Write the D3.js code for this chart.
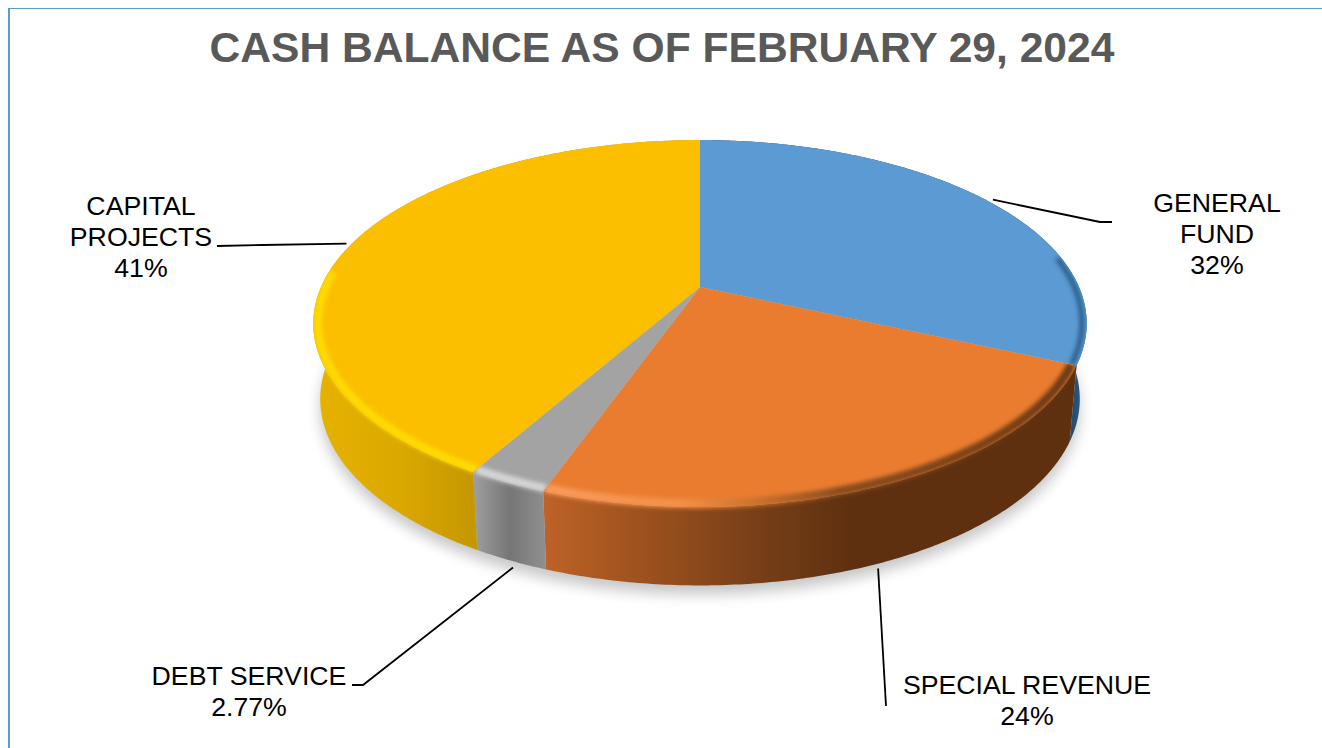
<!DOCTYPE html>
<html>
<head>
<meta charset="utf-8">
<script src="https://cdn.jsdelivr.net/npm/d3@7"></script>
<style>
html, body { margin: 0; padding: 0; background: #fff; overflow: hidden; }
text { font-family: "Liberation Sans", Arial, sans-serif; }
</style>
</head>
<body>
<div id="chart"></div>
<script>
// values, printed labels kept apart because they are rounded
var categories = ["GENERAL FUND", "SPECIAL REVENUE", "DEBT SERVICE", "CAPITAL PROJECTS"];
var values = [31.5, 23.6, 2.77, 41.49];
var valueLabels = ["32%", "24%", "2.77%", "41%"];
var labelLines = [["GENERAL", "FUND", "32%"], ["SPECIAL REVENUE", "24%"], ["DEBT SERVICE", "2.77%"], ["CAPITAL", "PROJECTS", "41%"]];
var colors = ["#5b9ad3", "#ea7c30", "#a3a3a3", "#fbbf00"];

var width = 1322, height = 748;

var svg = d3.select("#chart").append("svg")
  .attr("width", width)
  .attr("height", height)
  .style("display", "block");

var defs = svg.append("defs");

// soft shadow and bevel blurs
defs.append("filter").attr("id", "blurShadow")
  .attr("x", "-10%").attr("y", "-10%").attr("width", "120%").attr("height", "120%")
  .append("feGaussianBlur").attr("stdDeviation", 7);
defs.append("filter").attr("id", "blurRim")
  .attr("filterUnits", "userSpaceOnUse")
  .attr("x", 0).attr("y", 0).attr("width", width).attr("height", height)
  .append("feGaussianBlur").attr("stdDeviation", 2.3);

// perspective of the disc: screen scales, and how far the front leans to the viewer
var cx = 700, cy = 287, radX = 379, radY = 176.2, lean = -0.199;
var midY = 323.5, wallDrop = 75.5, wallScaleX = 0.982, wallScaleY = 1.016;

function project(angle, r, z) {
  var u = Math.sin(angle) * r, v = -Math.cos(angle) * r;
  var w = 1 + lean * v;
  var x = cx + radX * u / w, y = cy + radY * v / w;
  if (z) {
    x = cx + (x - cx) * wallScaleX;
    y = midY + (y - midY) * wallScaleY + wallDrop;
  }
  return [x, y];
}

function arcPoints(a0, a1, r, z) {
  var n = Math.max(2, Math.ceil(Math.abs(a1 - a0) / 0.01));
  return d3.range(n + 1).map(function (i) { return project(a0 + (a1 - a0) * i / n, r, z); });
}

var line = d3.line();
var pie = d3.pie().sort(null).value(function (d) { return d; });
var slices = pie(values);

function topPath(d) {
  return line([[cx, cy]].concat(arcPoints(d.startAngle, d.endAngle, 1, 0))) + "Z";
}
function wallPath(d) {
  return line(arcPoints(d.startAngle, d.endAngle, 1, 0).concat(arcPoints(d.endAngle, d.startAngle, 1, 1))) + "Z";
}

// gradients across the side wall and along the rim, x in screen pixels
function gradient(id, stops) {
  var g = defs.append("linearGradient").attr("id", id)
    .attr("gradientUnits", "userSpaceOnUse")
    .attr("x1", 0).attr("x2", width).attr("y1", 0).attr("y2", 0);
  stops.forEach(function (s) {
    g.append("stop").attr("offset", s[0] / width).attr("stop-color", s[1]);
  });
}
gradient("wall0", [[1065, "#1f4566"], [1087, "#2d5f8a"]]);
gradient("wall1", [[545, "#bd6228"], [620, "#a5551f"], [750, "#7a4018"], [850, "#5f3010"], [1075, "#5f3010"]]);
gradient("wall2", [[476, "#9c9c9c"], [510, "#767676"], [545, "#8f8f8f"]]);
gradient("wall3", [[316, "#e6b200"], [400, "#dba800"], [476, "#c59700"]]);
gradient("rim1", [[545, "#f79c5c"], [680, "#f49048"], [760, "#c8702c"], [840, "#8a4c1e"], [1075, "#6e3a14"]]);

// shadow under the disc
svg.append("path")
  .attr("d", line(arcPoints(0, 2 * Math.PI, 1, 1)) + "Z")
  .attr("transform", "translate(0,9)")
  .attr("fill", "#000")
  .attr("opacity", 0.22)
  .attr("filter", "url(#blurShadow)");

// clip per slice so the blurred rim stays inside its own colour
slices.forEach(function (d, i) {
  var c = defs.append("clipPath").attr("id", "clip" + i);
  c.append("path").attr("d", topPath(d));
  c.append("path").attr("d", wallPath(d));
});

svg.append("g").selectAll("path")
  .data(slices)
  .enter()
  .append("path")
  .attr("d", wallPath)
  .attr("fill", function (d, i) { return "url(#wall" + i + ")"; });

svg.append("g").selectAll("path")
  .data(slices)
  .enter()
  .append("path")
  .attr("d", topPath)
  .attr("fill", function (d, i) { return colors[i]; });

// bevel along the front edge
var rims = [
  { i: 0, from: 1.4, to: slices[0].endAngle, stroke: "#2b5d88", w: 5 },
  { i: 1, from: slices[1].startAngle, to: slices[1].endAngle, stroke: "url(#rim1)", w: 9 },
  { i: 2, from: slices[2].startAngle, to: slices[2].endAngle, stroke: "#d6d6d6", w: 8 },
  { i: 3, from: slices[3].startAngle, to: 4.8, stroke: "#ffdc00", w: 8 }
];
svg.append("g").selectAll("g")
  .data(rims)
  .enter()
  .append("g")
  .attr("clip-path", function (d) { return "url(#clip" + d.i + ")"; })
  .append("path")
  .attr("d", function (d) { return line(arcPoints(d.from, d.to, 0.988, 0)); })
  .attr("fill", "none")
  .attr("stroke", function (d) { return d.stroke; })
  .attr("stroke-width", function (d) { return d.w; })
  .attr("filter", "url(#blurRim)");

// frame of the original picture
svg.append("line").attr("x1", 8).attr("x2", width).attr("y1", 8.5).attr("y2", 8.5)
  .attr("stroke", "#5b9bd5").attr("stroke-width", 1);
svg.append("line").attr("x1", 9).attr("x2", 9).attr("y1", 8).attr("y2", height)
  .attr("stroke", "#5b9bd5").attr("stroke-width", 2);

svg.append("text")
  .attr("x", 662)
  .attr("y", 62)
  .attr("text-anchor", "middle")
  .attr("font-weight", "bold")
  .attr("font-size", 42.6)
  .attr("fill", "#595959")
  .text("CASH BALANCE AS OF FEBRUARY 29, 2024");

// where each label sits and how its leader runs from the slice to the text
var labelLayout = [
  { x: 1217, y: 212, leader: [[1100, 222], [1112, 222]], z: 0, gap: 3, nudge: [3, 0] },
  { x: 1027, y: 694, leader: [[886, 706]], z: 1, gap: 6, nudge: [-4, 0] },
  { x: 249, y: 685, leader: [[363, 685], [352, 685]], z: 1, gap: 6, nudge: [6, 2] },
  { x: 141, y: 215, leader: [[262, 245], [217, 246]], z: 0, gap: 3, nudge: [-2, 0] }
];

var leaderLine = d3.line();
slices.forEach(function (d, i) {
  var mid = (d.startAngle + d.endAngle) / 2;
  var layout = labelLayout[i];
  var start = project(mid, 1, layout.z);
  var dir = Math.atan2(start[1] - cy, start[0] - cx);
  start = [start[0] + Math.cos(dir) * layout.gap + layout.nudge[0], start[1] + Math.sin(dir) * layout.gap + layout.nudge[1]];
  svg.append("path")
    .attr("d", leaderLine([start].concat(layout.leader)))
    .attr("fill", "none")
    .attr("stroke", "#000")
    .attr("stroke-width", 1.8);

  var t = svg.append("text")
    .attr("text-anchor", "middle")
    .attr("font-size", 26.7)
    .attr("fill", "#000");
  labelLines[i].forEach(function (s, j) {
    t.append("tspan")
      .attr("x", layout.x)
      .attr("y", layout.y + j * 31)
      .text(s);
  });
});
</script>
</body>
</html>
